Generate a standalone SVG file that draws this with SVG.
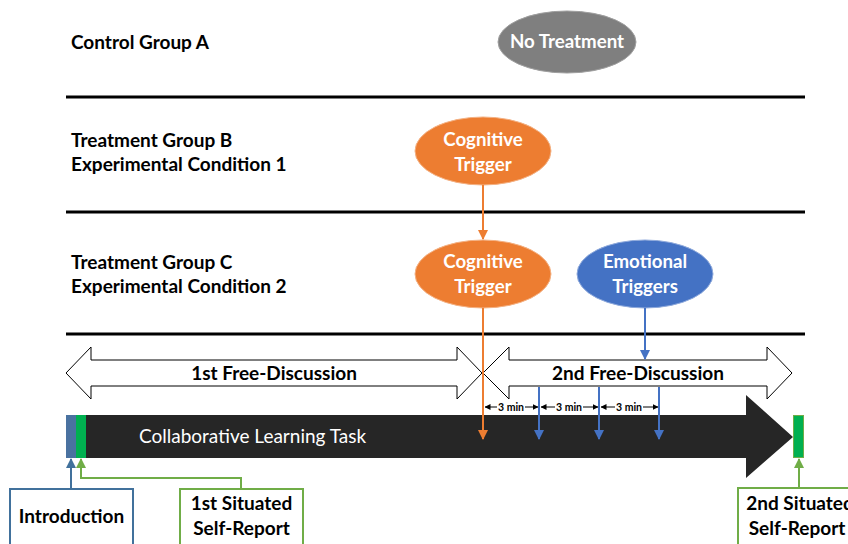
<svg xmlns="http://www.w3.org/2000/svg" width="848" height="544" viewBox="0 0 848 544">
<defs>
<style>
.lbl{font-family:Lato,"Liberation Sans",sans-serif;font-weight:bold;font-size:19px;fill:#000}
.wt{font-family:Lato,"Liberation Sans",sans-serif;font-weight:bold;font-size:18.7px;fill:#fff;text-anchor:middle}
.sep{stroke:#000;stroke-width:3}
.dbl{fill:#fff;stroke:#000;stroke-width:1}
.min{font-family:Lato,"Liberation Sans",sans-serif;font-weight:bold;font-size:10.5px;fill:#000;text-anchor:middle}
</style>
<marker id="ao" markerWidth="10" markerHeight="10" refX="9" refY="5" orient="auto" markerUnits="userSpaceOnUse"><path d="M0,0 L10,5 L0,10 Z" fill="#ED7D31"/></marker>
<marker id="ab" markerWidth="10" markerHeight="10" refX="9" refY="5" orient="auto" markerUnits="userSpaceOnUse"><path d="M0,0 L10,5 L0,10 Z" fill="#4472C4"/></marker>
<marker id="ai" markerWidth="10" markerHeight="10" refX="9" refY="5" orient="auto" markerUnits="userSpaceOnUse"><path d="M0,0 L10,5 L0,10 Z" fill="#41719C"/></marker>
<marker id="ag" markerWidth="10" markerHeight="10" refX="9" refY="5" orient="auto" markerUnits="userSpaceOnUse"><path d="M0,0 L10,5 L0,10 Z" fill="#70AD47"/></marker>
<marker id="ak" markerWidth="6" markerHeight="6" refX="5.5" refY="3" orient="auto" markerUnits="userSpaceOnUse"><path d="M0,0 L6,3 L0,6 Z" fill="#000"/></marker>
</defs>
<rect width="848" height="544" fill="#fff"/>

<g id="separators">
<line class="sep" x1="66" y1="97" x2="805" y2="97"/>
<line class="sep" x1="66" y1="212" x2="805" y2="212"/>
<line class="sep" x1="66" y1="334" x2="805" y2="334"/>
</g>

<g id="row-labels">
<text class="lbl" x="71" y="49">Control Group A</text>
<text class="lbl" x="71" y="147">Treatment Group B</text>
<text class="lbl" x="71" y="171">Experimental Condition 1</text>
<text class="lbl" x="71" y="269">Treatment Group C</text>
<text class="lbl" x="71" y="293">Experimental Condition 2</text>
</g>

<g id="no-treatment">
<ellipse cx="567" cy="42" rx="69" ry="31" fill="#7F7F7F" stroke="#A0A0A0" stroke-width="1"/>
<text class="wt" x="567" y="48">No Treatment</text>
</g>

<g id="cognitive-b">
<ellipse cx="483" cy="151" rx="68" ry="34" fill="#ED7D31" stroke="#F4B183" stroke-width="1"/>
<text class="wt" x="483" y="146">Cognitive</text>
<text class="wt" x="483" y="171">Trigger</text>
</g>

<g id="cognitive-c">
<ellipse cx="483" cy="274" rx="68" ry="34" fill="#ED7D31" stroke="#F4B183" stroke-width="1"/>
<text class="wt" x="483" y="268">Cognitive</text>
<text class="wt" x="483" y="293">Trigger</text>
</g>

<g id="emotional">
<ellipse cx="645" cy="274" rx="68" ry="34" fill="#4472C4" stroke="#8FAADC" stroke-width="1"/>
<text class="wt" x="645" y="268">Emotional</text>
<text class="wt" x="645" y="293">Triggers</text>
</g>

<g id="free-discussion-1">
<path class="dbl" d="M66,373 L91,347 L91,360 L457,360 L457,347 L482,373 L457,399 L457,386 L91,386 L91,399 Z"/>
<text class="lbl" x="274" y="380" text-anchor="middle">1st Free-Discussion</text>
</g>

<g id="free-discussion-2">
<path class="dbl" d="M483,373 L509,347 L509,360 L767,360 L767,347 L792,373 L767,399 L767,386 L509,386 L509,399 Z"/>
<text class="lbl" x="638" y="380" text-anchor="middle">2nd Free-Discussion</text>
</g>

<g id="task">
<path d="M86,415 L746,415 L746,395 L793,437 L746,478 L746,458 L86,458 Z" fill="#262626"/>
<rect x="66" y="415" width="10" height="43" fill="#4A72A0"/>
<rect x="76" y="415" width="10" height="43" fill="#00B050"/>
<text x="139" y="443" font-family="Lato,'Liberation Sans',sans-serif" font-size="19" fill="#fff">Collaborative Learning Task</text>
</g>

<g id="end-report-bar">
<rect x="793.5" y="415.5" width="10" height="42" fill="#00B050" stroke="#70AD47" stroke-width="1"/>
</g>

<g id="intervals">
<line x1="497" y1="407" x2="485" y2="407" stroke="#000" stroke-width="1" marker-end="url(#ak)"/>
<line x1="525" y1="407" x2="538" y2="407" stroke="#000" stroke-width="1" marker-end="url(#ak)"/>
<text class="min" x="511" y="411">3 min</text>
<line x1="555" y1="407" x2="541" y2="407" stroke="#000" stroke-width="1" marker-end="url(#ak)"/>
<line x1="583" y1="407" x2="598" y2="407" stroke="#000" stroke-width="1" marker-end="url(#ak)"/>
<text class="min" x="569" y="411">3 min</text>
<line x1="615" y1="407" x2="601" y2="407" stroke="#000" stroke-width="1" marker-end="url(#ak)"/>
<line x1="643" y1="407" x2="658" y2="407" stroke="#000" stroke-width="1" marker-end="url(#ak)"/>
<text class="min" x="629" y="411">3 min</text>
</g>

<g id="introduction">
<rect x="10" y="489" width="123" height="60" fill="#fff" stroke="#41719C" stroke-width="2"/>
<text class="lbl" x="71.5" y="523" text-anchor="middle">Introduction</text>
</g>

<g id="report-1">
<rect x="180" y="489" width="123" height="60" fill="#fff" stroke="#70AD47" stroke-width="2"/>
<text class="lbl" x="241.5" y="510" text-anchor="middle">1st Situated</text>
<text class="lbl" x="241.5" y="535" text-anchor="middle">Self-Report</text>
</g>

<g id="report-2">
<rect x="738" y="488" width="123" height="60" fill="#fff" stroke="#70AD47" stroke-width="2"/>
<text class="lbl" x="800" y="510" text-anchor="middle">2nd Situated</text>
<text class="lbl" x="797" y="535" text-anchor="middle">Self-Report</text>
</g>

<g id="connectors" fill="none" stroke-width="2">
<line x1="483" y1="185" x2="483" y2="239" stroke="#ED7D31" marker-end="url(#ao)"/>
<line x1="483" y1="308" x2="483" y2="439" stroke="#ED7D31" marker-end="url(#ao)"/>
<line x1="645" y1="308" x2="645" y2="359" stroke="#4472C4" marker-end="url(#ab)"/>
<line x1="539" y1="387" x2="539" y2="439" stroke="#4472C4" marker-end="url(#ab)"/>
<line x1="599" y1="387" x2="599" y2="439" stroke="#4472C4" marker-end="url(#ab)"/>
<line x1="659" y1="387" x2="659" y2="439" stroke="#4472C4" marker-end="url(#ab)"/>
<line x1="71" y1="488" x2="71" y2="459" stroke="#41719C" marker-end="url(#ai)"/>
<polyline points="241,488 241,478 81,478 81,459" stroke="#70AD47" marker-end="url(#ag)"/>
<line x1="799" y1="487" x2="799" y2="459" stroke="#70AD47" marker-end="url(#ag)"/>
</g>
</svg>
